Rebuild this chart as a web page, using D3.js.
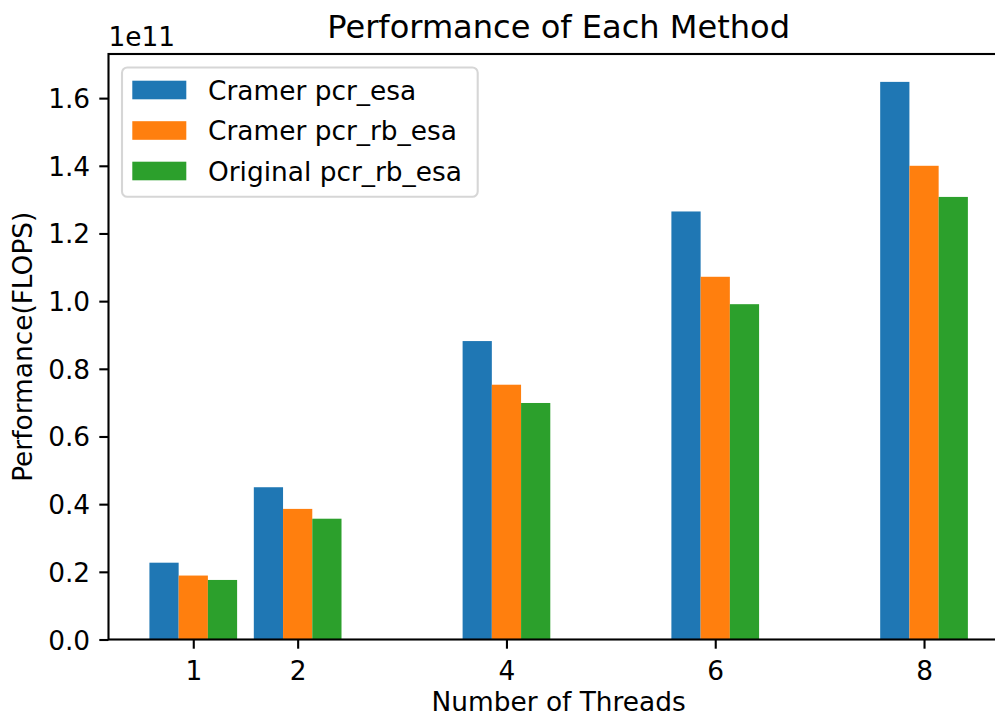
<!DOCTYPE html>
<html>
<head>
<meta charset="utf-8">
<script src="https://cdn.jsdelivr.net/npm/d3@7"></script>
<style>
  html, body { margin: 0; padding: 0; background: #ffffff; }
  svg { display: block; }
  text { font-family: "DejaVu Sans", sans-serif; fill: #000; }
</style>
</head>
<body>
<div id="chart"></div>
<script>
// ---- data (performance in FLOPS) ----
const threads = [1, 2, 4, 6, 8];
const seriesNames = ["Cramer pcr_esa", "Cramer pcr_rb_esa", "Original pcr_rb_esa"];
const cramerPcrEsa = [2.27e10, 4.50e10, 8.82e10, 1.265e11, 1.648e11];
const cramerPcrRbEsa = [1.89e10, 3.86e10, 7.53e10, 1.072e11, 1.400e11];
const originalPcrRbEsa = [1.76e10, 3.57e10, 6.99e10, 0.991e11, 1.308e11];
const seriesColors = ["#1f77b4", "#ff7f0e", "#2ca02c"];
const yTickValues = [0, 0.2e11, 0.4e11, 0.6e11, 0.8e11, 1.0e11, 1.2e11, 1.4e11, 1.6e11];
const titleText = "Performance of Each Method";
const xLabelText = "Number of Threads";
const yLabelText = "Performance(FLOPS)";
const offsetText = "1e11";

const series = [cramerPcrEsa, cramerPcrRbEsa, originalPcrRbEsa];

// ---- layout ----
const W = 995, H = 717;
const fs = 26.4;           // base font size (10pt)
const mLeft = 108.5, mTop = 54, mBottom = 639.5, mRight = 1008.8;
const barW = 0.28;

const svg = d3.select("#chart").append("svg").attr("width", W).attr("height", H);

const xMin = d3.min(threads) - 1.5 * barW, xMax = d3.max(threads) + 1.5 * barW;
const xPad = (xMax - xMin) * 0.05;
const x = d3.scaleLinear().domain([xMin - xPad, xMax + xPad]).range([mLeft, mRight]);
const yMaxVal = d3.max(series.flat()) * 1.05;
const y = d3.scaleLinear().domain([0, yMaxVal]).range([mBottom, mTop]);

// bars
series.forEach((vals, si) => {
  svg.append("g").selectAll("rect").data(vals).join("rect")
    .attr("x", (d, i) => x(threads[i] + (si - 1) * barW - barW / 2))
    .attr("width", (d, i) => x(threads[i] + barW / 2) - x(threads[i] - barW / 2))
    .attr("y", d => y(d))
    .attr("height", d => y(0) - y(d))
    .attr("fill", seriesColors[si]);
});

// axes
const tick = 9.2, pad = 9.2, lw = 2.1;
const xAxis = d3.axisBottom(x).tickValues(threads).tickFormat(d3.format("d")).tickSize(tick).tickPadding(pad);
const gx = svg.append("g").attr("transform", `translate(0,${mBottom})`).call(xAxis);
const yAxis = d3.axisLeft(y).tickValues(yTickValues).tickFormat(d => (d / 1e11).toFixed(1)).tickSize(tick).tickPadding(pad);
const gy = svg.append("g").attr("transform", `translate(${mLeft},0)`).call(yAxis);
[gx, gy].forEach(g => {
  g.select(".domain").remove();
  g.selectAll(".tick line").attr("stroke", "#000").attr("stroke-width", lw);
  g.selectAll(".tick text").attr("font-size", fs).attr("font-family", "DejaVu Sans").attr("fill", "#000");
});
gx.selectAll(".tick text").attr("dy", "0.83em");
gy.selectAll(".tick text").attr("dy", "0.36em");

// spines
const spine = svg.append("g").attr("stroke", "#000").attr("stroke-width", lw).attr("fill", "none");
spine.append("rect").attr("x", mLeft).attr("y", mTop).attr("width", mRight - mLeft).attr("height", mBottom - mTop);

// offset text
svg.append("text").attr("x", mLeft).attr("y", 46).attr("font-size", fs).text(offsetText);

// title
svg.append("text").attr("x", (mLeft + mRight) / 2).attr("y", 37.5).attr("text-anchor", "middle")
  .attr("font-size", fs * 1.215).text(titleText);

// x label
svg.append("text").attr("x", (mLeft + mRight) / 2).attr("y", 710.7).attr("text-anchor", "middle")
  .attr("font-size", fs).text(xLabelText);

// y label
svg.append("text").attr("transform", `translate(32,${(mTop + mBottom) / 2}) rotate(-90)`)
  .attr("text-anchor", "middle").attr("font-size", fs).text(yLabelText);

// legend
const lg = svg.append("g");
lg.append("rect").attr("x", 122).attr("y", 67.5).attr("width", 355.7).attr("height", 129.2)
  .attr("rx", 5.3).attr("fill", "rgba(255,255,255,0.8)").attr("stroke", "#d6d6d6").attr("stroke-width", 2.1);
seriesNames.forEach((name, i) => {
  const cy = 90 + i * 40.5;
  lg.append("rect").attr("x", 132.3).attr("y", cy - 9.3).attr("width", 54).attr("height", 18.6)
    .attr("fill", seriesColors[i]);
  lg.append("text").attr("x", 208).attr("y", cy).attr("dy", "0.36em").attr("font-size", fs).text(name);
});
</script>
</body>
</html>
